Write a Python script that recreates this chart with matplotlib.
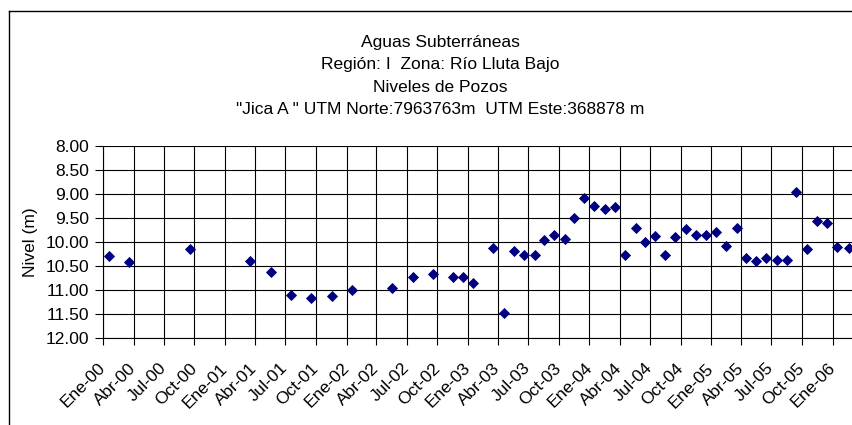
import matplotlib
matplotlib.use("Agg")
import matplotlib.pyplot as plt
import matplotlib.transforms as mtransforms
from matplotlib.lines import Line2D
import numpy as np
from datetime import datetime

plt.rcParams['font.family'] = ['Liberation Sans', 'DejaVu Sans']

# fechas de medicion y niveles (m)
fechas = ["2000-01-18", "2000-03-19", "2000-09-17", "2001-03-18", "2001-05-18",
          "2001-07-17", "2001-09-17", "2001-11-18", "2002-01-16", "2002-05-18",
          "2002-07-19", "2002-09-17", "2002-11-16", "2002-12-17", "2003-01-16",
          "2003-03-17", "2003-04-18", "2003-05-19", "2003-06-19", "2003-07-20",
          "2003-08-17", "2003-09-17", "2003-10-18", "2003-11-17", "2003-12-17",
          "2004-01-16", "2004-02-16", "2004-03-18", "2004-04-18", "2004-05-19",
          "2004-06-15", "2004-07-15", "2004-08-15", "2004-09-14", "2004-10-17",
          "2004-11-15", "2004-12-16", "2005-01-16", "2005-02-15", "2005-03-18",
          "2005-04-16", "2005-05-16", "2005-06-16", "2005-07-18", "2005-08-18",
          "2005-09-14", "2005-10-16", "2005-11-15", "2005-12-15", "2006-01-15",
          "2006-02-18"]
niveles = [10.29, 10.41, 10.15, 10.39, 10.62, 11.10, 11.16, 11.12, 11.00, 10.96,
           10.73, 10.67, 10.73, 10.73, 10.84, 10.12, 11.48, 10.19, 10.26, 10.26,
           9.96, 9.85, 9.93, 9.50, 9.09, 9.25, 9.31, 9.27, 10.27, 9.71,
           9.99, 9.87, 10.27, 9.89, 9.73, 9.86, 9.86, 9.78, 10.09, 9.71,
           10.34, 10.39, 10.34, 10.38, 10.38, 8.95, 10.14, 9.55, 9.60, 10.11,
           10.13]

# ticks trimestrales
meses = ["Ene", "Abr", "Jul", "Oct"]
anios = ["00", "01", "02", "03", "04", "05", "06"]
tick_fechas = []
tick_labels = []
for i, a in enumerate(anios):
    for j, m in enumerate(meses):
        if a == "06" and j > 0:
            break
        tick_fechas.append(datetime(2000 + i, 1 + 3 * j, 1))
        tick_labels.append(m + "-" + a)

titulos = ["Aguas Subterráneas",
           "Región: I  Zona: Río Lluta Bajo",
           "Niveles de Pozos",
           "\"Jica A \" UTM Norte:7963763m  UTM Este:368878 m"]

FS = 12.5
W, H = 853, 425
fig = plt.figure(figsize=(W / 100, H / 100), dpi=100)
ax = fig.add_axes([103.3 / W, 1 - 338.3 / H, (853 - 103.3) / W, (338.3 - 146) / H])

x = [datetime.strptime(f, "%Y-%m-%d") for f in fechas]
ax.plot(x, niveles, linestyle='none', marker='D', ms=4.8, mew=0.6,
        color='#000080', zorder=3)

ax.set_ylim(12, 8)
ax.set_yticks(np.arange(8, 12.01, 0.5))
ax.set_yticklabels(["%.2f" % v for v in np.arange(8, 12.01, 0.5)], fontsize=FS)
ax.set_xlim(datetime(2000, 1, 1), datetime(2006, 3, 3))
ax.set_xticks(tick_fechas)
ax.set_xticklabels(tick_labels, rotation=45, ha='right', va='center',
                   rotation_mode='anchor', fontsize=FS)
off = mtransforms.ScaledTranslation(-3 / 100, 0, fig.dpi_scale_trans)
for lab in ax.get_xticklabels():
    lab.set_transform(lab.get_transform() + off)

ax.grid(True, color='black', linewidth=0.8)
ax.set_axisbelow(True)
for s in ['top', 'right']:
    ax.spines[s].set_visible(False)
for s in ['left', 'bottom']:
    ax.spines[s].set_color('black')
    ax.spines[s].set_linewidth(0.8)
ax.tick_params(axis='y', direction='out', length=5.8, width=0.8, pad=4.3)
ax.tick_params(axis='x', direction='out', length=4.8, width=0.8, pad=15)
ax.set_ylabel("Nivel (m)", fontsize=FS)
ax.yaxis.set_label_coords((38 - 103.3) / 749.7, 0.5)

ys = [43, 65, 87, 109]
for t, yy in zip(titulos, ys):
    fig.text(440 / W, 1 - yy / H, t, ha='center', va='center', fontsize=FS)

# borde del grafico
fig.add_artist(Line2D([8.5 / W, 8.5 / W], [0, 1 - 11 / H], color='black', lw=1))
fig.add_artist(Line2D([8.5 / W, 1], [1 - 11 / H, 1 - 11 / H], color='black', lw=1))

fig.savefig("out.png", dpi=100)
